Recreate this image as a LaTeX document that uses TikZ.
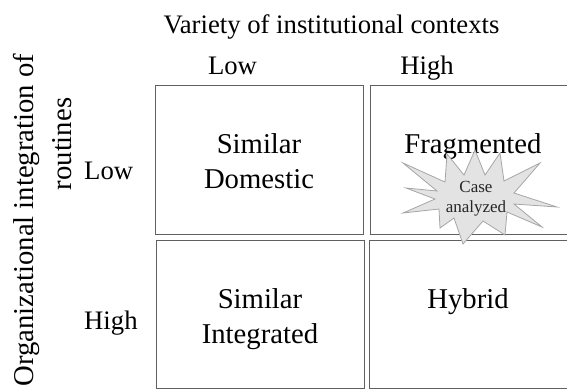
\documentclass[tikz,border=0pt]{standalone}
\usepackage{fontspec}
\setmainfont{Liberation Serif}
\begin{document}
\begin{tikzpicture}[x=1pt,y=-1pt,
  cell/.style={draw=gray!75!black,line width=1pt},
  lbl/.style={font=\fontsize{26.7}{32}\selectfont,inner sep=0pt,anchor=base},
  celltxt/.style={font=\fontsize{28.7}{34.5}\selectfont,inner sep=0pt,anchor=base,align=center},
  startxt/.style={font=\fontsize{17}{20}\selectfont,inner sep=0pt,align=center,text=black!85}]
\useasboundingbox (0,0) rectangle (567,389);
\clip (0,0) rectangle (567,389);
% boxes
\draw[cell] (155,85) rectangle (363,234);
\draw[cell] (370,85) rectangle (580,234);
\draw[cell] (156,240) rectangle (364,388);
\draw[cell] (369,240) rectangle (580,388);
% headers
\node[lbl] (title) at (331.5,33) {Variety of institutional contexts};
\node[lbl] (collow) at (232.5,74) {Low};
\node[lbl] (colhigh) at (427,74) {High};
\node[lbl,anchor=base west] (rowlow) at (84,179) {Low};
\node[lbl,anchor=base west] (rowhigh) at (84,329) {High};
\node[celltxt,rotate=90] (ylab1) at (33,220) {Organizational integration of};
\node[celltxt,rotate=90] (ylab2) at (71,144) {routines};
% cell texts
\node[celltxt] (sd) at (259,188) {Similar\\Domestic};
\node[celltxt] (frag) at (473,153) {Fragmented};
\node[celltxt] (si) at (260,343) {Similar\\Integrated};
\node[celltxt] (hyb) at (468,308) {Hybrid};
% star
\draw[fill=gray!22,draw=gray!70,line width=0.8pt]
  (403,163) -- (445,182) -- (447,154) -- (464,175) -- (475,150) -- (485,175) --
  (500,153) -- (504,181) -- (540,163) -- (514,193) -- (557,207) -- (514,204) --
  (542,227) -- (507,212) -- (505,235) -- (483,221) -- (463,244) -- (454,218) --
  (440,228) -- (439,209) -- (403,213) -- (435,199) -- (406,188) -- (437,191) -- cycle;
\node[startxt] (case) at (476,199) {Case\\analyzed};
\end{tikzpicture}
\end{document}
